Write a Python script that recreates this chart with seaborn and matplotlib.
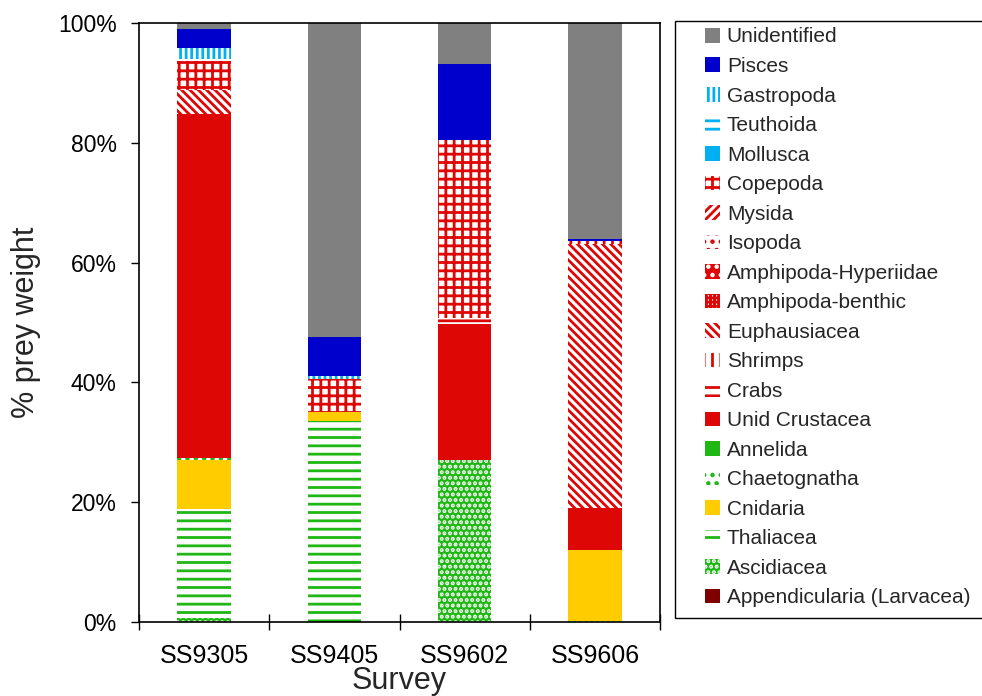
import matplotlib
matplotlib.use("Agg")
import matplotlib.pyplot as plt
from matplotlib.patches import Patch, Rectangle
import numpy as np
import seaborn as sns

# Surveys on the x axis
surveys = ["SS9305", "SS9405", "SS9602", "SS9606"]

# Prey groups, bottom of the stack first
prey = [
    "Appendicularia (Larvacea)", "Ascidiacea", "Thaliacea", "Cnidaria",
    "Chaetognatha", "Annelida", "Unid Crustacea", "Crabs", "Shrimps",
    "Euphausiacea", "Amphipoda-benthic", "Amphipoda-Hyperiidae", "Isopoda",
    "Mysida", "Copepoda", "Mollusca", "Teuthoida", "Gastropoda", "Pisces",
    "Unidentified",
]

# % prey weight per survey
appendicularia = [0.0, 0.0, 0.0, 0.0]
ascidiacea = [0.7, 0.0, 27.0, 0.2]
thaliacea = [18.2, 33.6, 0.0, 0.0]
cnidaria = [8.2, 1.4, 0.0, 11.8]
chaetognatha = [0.3, 0.0, 0.0, 0.0]
annelida = [0.0, 0.0, 0.0, 0.0]
unid_crustacea = [57.4, 0.0, 22.7, 7.1]
crabs = [0.0, 0.0, 1.0, 0.0]
shrimps = [0.0, 0.0, 0.0, 0.0]
euphausiacea = [4.0, 0.0, 0.0, 44.0]
amphipoda_benthic = [0.0, 0.0, 0.0, 0.0]
amphipoda_hyperiidae = [0.0, 0.0, 0.0, 0.0]
isopoda = [0.0, 0.0, 0.0, 0.0]
mysida = [0.0, 0.0, 0.0, 0.0]
copepoda = [4.9, 5.6, 29.8, 0.5]
mollusca = [0.0, 0.0, 0.0, 0.0]
teuthoida = [0.3, 0.0, 0.0, 0.0]
gastropoda = [1.9, 0.4, 0.0, 0.0]
pisces = [3.1, 6.5, 12.7, 0.3]
unidentified = [1.0, 52.5, 6.8, 36.1]

values = [
    appendicularia, ascidiacea, thaliacea, cnidaria, chaetognatha, annelida,
    unid_crustacea, crabs, shrimps, euphausiacea, amphipoda_benthic,
    amphipoda_hyperiidae, isopoda, mysida, copepoda, mollusca, teuthoida,
    gastropoda, pisces, unidentified,
]

GRAY, BLUE, LBLUE = "#808080", "#0000CC", "#00B0F0"
RED, GREEN, YELLOW, DRED = "#DD0806", "#1FB714", "#FFCC00", "#800000"
W = "white"

# (face colour, hatch colour, hatch) for each prey group
styles = {
    "Appendicularia (Larvacea)": (DRED, DRED, None),
    "Ascidiacea": (GREEN, W, "..."),
    "Thaliacea": (W, GREEN, "--"),
    "Cnidaria": (YELLOW, YELLOW, None),
    "Chaetognatha": (W, GREEN, ".."),
    "Annelida": (GREEN, GREEN, None),
    "Unid Crustacea": (RED, RED, None),
    "Crabs": (W, RED, "--"),
    "Shrimps": (W, RED, "||"),
    "Euphausiacea": (W, RED, "\\\\\\\\"),
    "Amphipoda-benthic": (W, RED, "++++"),
    "Amphipoda-Hyperiidae": (RED, W, ".."),
    "Isopoda": (W, RED, ".."),
    "Mysida": (W, RED, "////"),
    "Copepoda": (W, RED, "++"),
    "Mollusca": (LBLUE, LBLUE, None),
    "Teuthoida": (W, LBLUE, "--"),
    "Gastropoda": (W, LBLUE, "|||"),
    "Pisces": (BLUE, BLUE, None),
    "Unidentified": (GRAY, GRAY, None),
}

sns.set_theme(style="ticks")
plt.rcParams["font.family"] = ["Liberation Sans", "DejaVu Sans"]
plt.rcParams["hatch.linewidth"] = 2.0

fig = plt.figure(figsize=(9.82, 6.96), dpi=100)
ax = fig.add_axes([139 / 982, 1 - 622 / 696, 521 / 982, 599 / 696])

bottom = np.zeros(len(surveys))
for name, vals in zip(prey, values):
    face, hcol, hatch = styles[name]
    sns.barplot(x=surveys, y=vals, order=surveys, bottom=bottom, color=face,
                edgecolor=hcol, linewidth=0, hatch=hatch, saturation=1,
                width=0.41, errorbar=None, ax=ax)
    bottom += np.array(vals)

ax.set_xlim(-0.5, 3.5)
ax.set_ylim(0, 100)
ax.set_yticks([0, 20, 40, 60, 80, 100])
ax.set_yticklabels([f"{v}%" for v in range(0, 101, 20)], fontsize=16.5)
ax.set_xticks(range(len(surveys)))
ax.set_xticklabels(surveys, fontsize=18)
ax.set_xticks([-0.5, 0.5, 1.5, 2.5, 3.5], minor=True)
ax.tick_params(axis="x", which="major", length=0, pad=16, colors="black")
ax.tick_params(axis="x", which="minor", direction="inout", length=12,
               width=1.0, color="black")
ax.tick_params(axis="y", direction="out", length=6, width=1.0, pad=10,
               colors="black")
for s in ax.spines.values():
    s.set_visible(True)
    s.set_color("black")
    s.set_linewidth(1.2)

ax.set_xlabel("Survey", fontsize=22, labelpad=-1.5)
ax.set_ylabel("% prey weight", fontsize=22, labelpad=12)

handles = []
for name in prey[::-1]:
    face, hcol, hatch = styles[name]
    handles.append(Patch(facecolor=face, edgecolor=hcol, hatch=hatch,
                         linewidth=0))
fig.legend(handles, prey[::-1], loc="upper left",
           bbox_to_anchor=(705 / 982, 1 - 27.5 / 696), frameon=False,
           fontsize=15, handlelength=0.7, handleheight=0.7,
           handletextpad=0.35, labelspacing=0.505, borderpad=0,
           borderaxespad=0)
fig.patches.append(Rectangle((675 / 982, 1 - 618 / 696), 310 / 982,
                             597 / 696, transform=fig.transFigure,
                             fill=False, edgecolor="black", linewidth=1.0))

fig.savefig("out.png", dpi=100)
